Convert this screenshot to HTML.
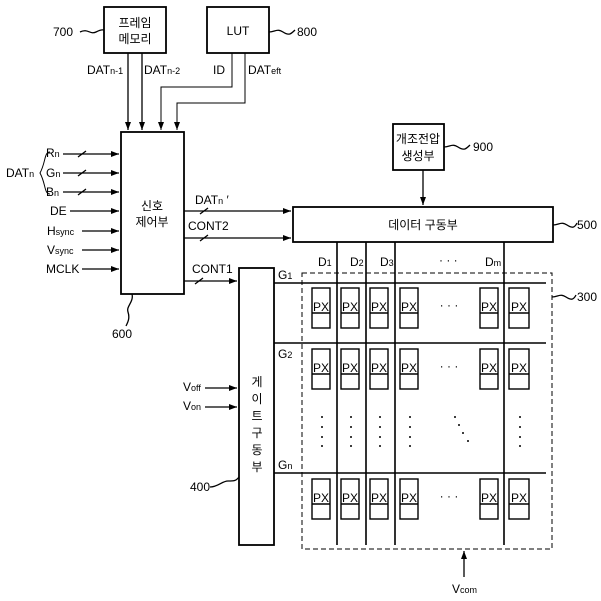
<!DOCTYPE html>
<html><head><meta charset="utf-8"><style>body{margin:0;background:#fff}svg{display:block}text{font-family:"Liberation Sans","Noto Sans CJK KR",sans-serif;fill:#000}</style></head><body>
<svg width="601" height="601" viewBox="0 0 601 601" xmlns="http://www.w3.org/2000/svg">
<defs><marker id="a" markerWidth="8" markerHeight="6" refX="8" refY="3" orient="auto" markerUnits="userSpaceOnUse"><path d="M0,0L8,3L0,6z" fill="#000"/></marker>
<g id="r" fill="none" stroke="#000" stroke-width="1.4"><rect x="312" y="0" width="18" height="40"/><path d="M312 25H330"/><rect x="341" y="0" width="18" height="40"/><path d="M341 25H359"/><rect x="370" y="0" width="18" height="40"/><path d="M370 25H388"/><rect x="400" y="0" width="18" height="40"/><path d="M400 25H418"/><rect x="480" y="0" width="18" height="40"/><path d="M480 25H498"/><rect x="509" y="0" width="20" height="40"/><path d="M509 25H529"/></g>
<g id="p" font-size="12" text-anchor="middle"><text x="321" y="13">PX</text><text x="350" y="13">PX</text><text x="379" y="13">PX</text><text x="409" y="13">PX</text><text x="489" y="13">PX</text><text x="519" y="13">PX</text><text x="449" y="11">· · ·</text></g>
<g id="d" fill="#000"><circle cx="322" cy="417" r="1"/><circle cx="322" cy="427" r="1"/><circle cx="322" cy="437" r="1"/><circle cx="322" cy="446" r="1"/></g>
</defs>
<g fill="none" stroke="#000" stroke-width="1.3">
<rect x="104" y="7" width="62" height="46" stroke-width="1.8"/>
<rect x="207" y="7" width="62" height="46" stroke-width="1.8"/>
<rect x="121" y="132" width="63" height="162" stroke-width="1.8"/>
<rect x="393" y="124" width="51" height="46" stroke-width="1.8"/>
<rect x="293" y="207" width="260" height="35" stroke-width="1.8"/>
<rect x="239" y="268" width="35" height="277" stroke-width="1.8"/>
<rect x="302" y="273" width="250" height="276" stroke-dasharray="5,3" stroke-width="1"/>
<g marker-end="url(#a)">
<path d="M128 53V130"/><path d="M142 53V130"/>
<path d="M232 53V87H161V130" stroke-width="1"/><path d="M245 53V103H177V130" stroke-width="1"/>
<path d="M423 170V205"/>
<path d="M63 154H119"/><path d="M63 173H119"/><path d="M63 192H119"/><path d="M70 211H119"/><path d="M82 231H119"/><path d="M82 250H119"/><path d="M82 269H119"/>
<path d="M184 211H291"/><path d="M184 238H291"/><path d="M184 281H237"/><path d="M205 388H237"/><path d="M205 407H237"/>
<path d="M464 577V551"/>
</g>
<path d="M78 157L86 151M78 176L86 170M78 195L86 189"/>
<path d="M200 214L208 208M200 241L208 235M195 284L203 278"/>
<path d="M274 283H546M274 343H546M274 473H546" stroke-width="1.6"/>
<path d="M337 242V545M366 242V545M395 242V545M504 242V545" stroke-width="1.6"/>
<path d="M80 32c8-4 10 3 16 0s6-2 8-2M269 32c6 0 8-4 14 0s8 2 12-2M444 147c6 0 8-4 14 0s8 2 12-2M553 225c6 0 8-4 14 0s8 2 10-2M552 297c6 0 8-4 14 0s8 2 10-2M132 294c2 8-6 12-4 18s0 10-2 14M210 487c8 0 12-6 18-6s8 0 11-4"/>
<path d="M50 152c-6 0-4 10-10 21c6 11 4 21 10 21" stroke-width="1"/>
</g>
<use href="#r" transform="translate(0,288)"/><use href="#r" transform="translate(0,349)"/><use href="#r" transform="translate(0,479)"/>
<use href="#p" transform="translate(0,298)"/><use href="#p" transform="translate(0,359)"/><use href="#p" transform="translate(0,489)"/>
<use href="#d"/><use href="#d" x="29"/><use href="#d" x="58"/><use href="#d" x="88"/><use href="#d" x="198"/>
<g fill="#000"><circle cx="455" cy="417" r="1"/><circle cx="459" cy="425" r="1"/><circle cx="463" cy="433" r="1"/><circle cx="468" cy="441" r="1"/></g>
<g font-size="12">
<text x="135" y="27" text-anchor="middle">프레임</text><text x="135" y="43" text-anchor="middle">메모리</text>
<text x="238" y="35" text-anchor="middle">LUT</text>
<text x="418" y="143" text-anchor="middle">개조전압</text><text x="418" y="160" text-anchor="middle">생성부</text>
<text x="423" y="229" text-anchor="middle">데이터 구동부</text>
<text x="152" y="210" text-anchor="middle">신호</text><text x="152" y="226" text-anchor="middle">제어부</text>
<g text-anchor="middle"><text x="257" y="386">게</text><text x="257" y="403">이</text><text x="257" y="420">트</text><text x="257" y="437">구</text><text x="257" y="454">동</text><text x="257" y="471">부</text></g>
<text x="53" y="36">700</text><text x="297" y="36">800</text><text x="473" y="151">900</text><text x="577" y="229">500</text><text x="577" y="301">300</text><text x="112" y="338">600</text><text x="190" y="491">400</text>
<text x="87" y="74">DAT<tspan font-size="9">n-1</tspan></text><text x="144" y="74">DAT<tspan font-size="9">n-2</tspan></text>
<text x="213" y="74">ID</text><text x="248" y="74">DAT<tspan font-size="9">eft</tspan></text>
<text x="46" y="157">R<tspan font-size="9">n</tspan></text><text x="46" y="177">G<tspan font-size="9">n</tspan></text><text x="46" y="196">B<tspan font-size="9">n</tspan></text>
<text x="6" y="177">DAT<tspan font-size="9">n</tspan></text>
<text x="50" y="215">DE</text><text x="47" y="235">H<tspan font-size="9">sync</tspan></text><text x="47" y="254">V<tspan font-size="9">sync</tspan></text><text x="46" y="273">MCLK</text>
<text x="195" y="204">DAT<tspan font-size="9">n</tspan> ′</text><text x="188" y="230">CONT2</text><text x="192" y="273">CONT1</text>
<text x="183" y="391">V<tspan font-size="9">off</tspan></text><text x="183" y="410">V<tspan font-size="9">on</tspan></text>
<text x="278" y="279">G<tspan font-size="9">1</tspan></text><text x="278" y="358">G<tspan font-size="9">2</tspan></text><text x="278" y="469">G<tspan font-size="9">n</tspan></text>
<text x="318" y="266">D<tspan font-size="9">1</tspan></text><text x="350" y="266">D<tspan font-size="9">2</tspan></text><text x="380" y="266">D<tspan font-size="9">3</tspan></text><text x="485" y="266">D<tspan font-size="9">m</tspan></text>
<text x="439" y="264">· · ·</text>
<text x="452" y="593">V<tspan font-size="9">com</tspan></text>
</g>
</svg>
</body></html>
